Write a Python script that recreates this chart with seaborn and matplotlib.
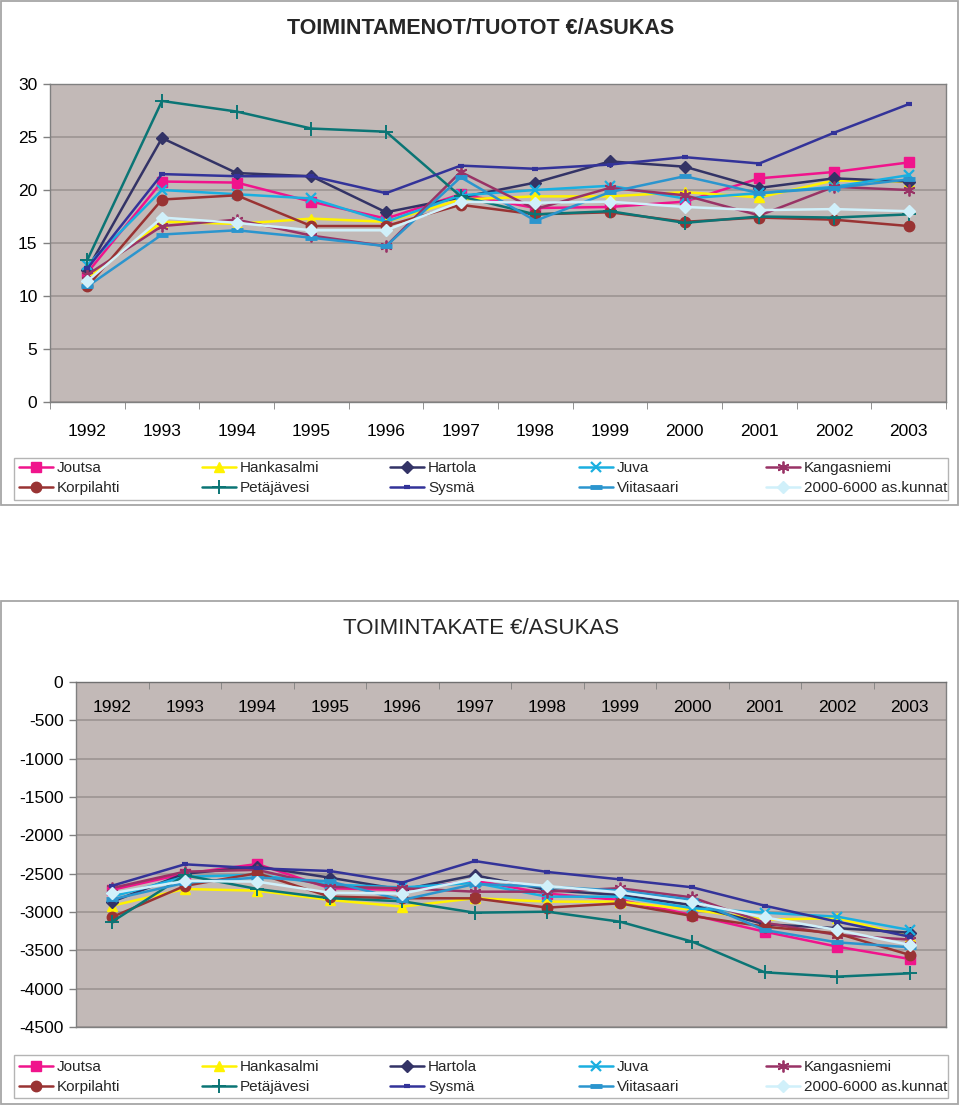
import numpy as np
import pandas as pd
import matplotlib
matplotlib.use('Agg')
import matplotlib.pyplot as plt
from matplotlib.patches import Rectangle
import seaborn as sns

# Vuodet ja kunnat
years = ['1992', '1993', '1994', '1995', '1996', '1997', '1998', '1999', '2000', '2001', '2002', '2003']
names = ['Joutsa', 'Hankasalmi', 'Hartola', 'Juva', 'Kangasniemi',
         'Korpilahti', 'Petäjävesi', 'Sysmä', 'Viitasaari', '2000-6000 as.kunnat']

# Toimintamenot/tuotot €/asukas
joutsa_m = [12.2, 20.8, 20.7, 18.9, 17.3, 19.6, 18.3, 18.4, 18.9, 21.1, 21.7, 22.6]
hankasalmi_m = [11.7, 17.0, 16.8, 17.3, 17.0, 19.1, 19.4, 19.4, 19.8, 19.3, 20.9, 20.8]
hartola_m = [12.5, 24.9, 21.6, 21.3, 17.9, 19.3, 20.7, 22.7, 22.2, 20.2, 21.1, 20.8]
juva_m = [12.9, 20.0, 19.6, 19.2, 17.0, 19.5, 20.0, 20.4, 19.2, 19.7, 20.3, 21.4]
kangasniemi_m = [12.0, 16.6, 17.2, 15.7, 14.7, 21.7, 18.2, 20.2, 19.5, 17.6, 20.3, 20.0]
korpilahti_m = [10.9, 19.1, 19.5, 16.6, 16.6, 18.6, 17.7, 17.9, 17.0, 17.4, 17.2, 16.6]
petajavesi_m = [13.4, 28.4, 27.4, 25.8, 25.5, 19.4, 17.7, 18.0, 16.9, 17.5, 17.4, 17.7]
sysma_m = [12.6, 21.5, 21.3, 21.3, 19.7, 22.3, 22.0, 22.4, 23.1, 22.5, 25.4, 28.1]
viitasaari_m = [10.9, 15.8, 16.2, 15.5, 14.7, 21.2, 17.1, 19.8, 21.3, 19.7, 20.2, 21.0]
kunnat_m = [11.4, 17.4, 16.9, 16.2, 16.2, 18.9, 18.8, 18.9, 18.4, 18.1, 18.2, 18.0]

# Toimintakate €/asukas
joutsa_k = [-2710, -2500, -2374, -2690, -2713, -2590, -2760, -2843, -3039, -3257, -3452, -3613]
hankasalmi_k = [-2918, -2700, -2722, -2843, -2930, -2820, -2865, -2865, -2970, -3100, -3080, -3320]
hartola_k = [-2865, -2500, -2409, -2552, -2710, -2520, -2713, -2780, -2910, -3160, -3210, -3270]
juva_k = [-2800, -2540, -2515, -2640, -2680, -2620, -2800, -2800, -2950, -3009, -3061, -3235]
kangasniemi_k = [-2687, -2474, -2450, -2670, -2690, -2735, -2735, -2690, -2810, -3140, -3300, -3360]
korpilahti_k = [-3065, -2660, -2493, -2800, -2820, -2822, -2943, -2887, -3052, -3191, -3280, -3560]
petajavesi_k = [-3126, -2520, -2700, -2820, -2860, -3009, -2996, -3126, -3387, -3787, -3843, -3800]
sysma_k = [-2657, -2378, -2430, -2465, -2617, -2335, -2478, -2574, -2678, -2918, -3126, -3322]
viitasaari_k = [-2835, -2620, -2550, -2600, -2843, -2635, -2670, -2720, -2840, -3235, -3396, -3460]
kunnat_k = [-2754, -2596, -2604, -2748, -2760, -2570, -2661, -2744, -2874, -3070, -3235, -3430]

menot = [joutsa_m, hankasalmi_m, hartola_m, juva_m, kangasniemi_m,
         korpilahti_m, petajavesi_m, sysma_m, viitasaari_m, kunnat_m]
katteet = [joutsa_k, hankasalmi_k, hartola_k, juva_k, kangasniemi_k,
           korpilahti_k, petajavesi_k, sysma_k, viitasaari_k, kunnat_k]

# Tyylit (väri, merkki, koko, reunan paksuus)
styles = [
    ('#F0148C', 's', 6.5, 1.0),
    ('#FFF200', '^', 7.5, 1.0),
    ('#333366', 'D', 6.0, 1.0),
    ('#1AAFE0', 'x', 7.5, 1.6),
    ('#993366', (6, 2, 0), 8.5, 1.3),
    ('#993333', 'o', 7.5, 1.0),
    ('#0B7575', '+', 9.5, 1.4),
    ('#333399', '_', 5.0, 3.0),
    ('#2B95CE', '_', 8.0, 3.5),
    ('#D0F0FA', 'D', 6.5, 1.0),
]

sns.set_style('white')
plt.rcParams['font.family'] = ['Liberation Sans', 'DejaVu Sans']
plt.rcParams['axes.unicode_minus'] = False

W, H = 960, 1106
fig = plt.figure(figsize=(W / 100, H / 100), dpi=100)

def px_axes(l, t, r, b):
    return fig.add_axes([l / W, 1 - b / H, (r - l) / W, (b - t) / H])

bg = '#C2B9B7'
gridc = '#9C9492'
x = np.arange(len(years))

def draw_series(ax, data):
    for name, vals, (c, m, ms, mew) in zip(names, data, styles):
        sns.lineplot(x=x, y=vals, ax=ax, color=c, marker=m, markersize=ms,
                     markeredgecolor=c, markerfacecolor=c, markeredgewidth=mew,
                     lw=1.8, label=name)
    h, l = ax.get_legend_handles_labels()
    if ax.get_legend() is not None:
        ax.get_legend().remove()
    return h, l

def style_axes(ax):
    ax.set_facecolor(bg)
    ax.set_xlim(-0.5, 11.5)
    ax.grid(axis='y', color=gridc, lw=1.2)
    ax.grid(axis='x', visible=False)
    ax.set_axisbelow(True)
    for s in ax.spines.values():
        s.set_color('#808080')
        s.set_linewidth(1.0)
    ax.set_xlabel('')
    ax.set_ylabel('')
    ax.set_xticks(x)
    ax.set_xticks(np.arange(-0.5, 12, 1), minor=True)
    ax.tick_params(axis='both', labelsize=12.5, colors='black')
    ax.tick_params(axis='y', length=5, width=1, color='#808080', pad=4, left=True)

def draw_legend(handles, labels, y_mid):
    xs = [19, 202, 390, 579, 766]
    for j in range(5):
        fig.legend([handles[j], handles[j + 5]], [labels[j], labels[j + 5]],
                   loc='center left', bbox_to_anchor=(xs[j] / W, 1 - y_mid / H),
                   frameon=False, fontsize=11, handlelength=2.2,
                   handletextpad=0.3, labelspacing=0.38, borderpad=0,
                   borderaxespad=0, numpoints=1)

# Ylempi kaavio
ax1 = px_axes(50, 84, 946, 402)
h, l = draw_series(ax1, menot)
style_axes(ax1)
ax1.set_ylim(0, 30)
ax1.set_yticks(np.arange(0, 31, 5))
ax1.set_xticklabels(years)
ax1.tick_params(axis='x', which='major', length=0, pad=16)
ax1.tick_params(axis='x', which='minor', length=5, color='#808080', bottom=True)
fig.text(481 / W, 1 - 29 / H, 'TOIMINTAMENOT/TUOTOT €/ASUKAS', ha='center', va='center',
         fontsize=15.5, fontweight='bold')
draw_legend(h, l, 478)

# Alempi kaavio
ax2 = px_axes(76, 682, 946, 1027)
h2, l2 = draw_series(ax2, katteet)
style_axes(ax2)
ax2.set_ylim(-4500, 0)
ax2.set_yticks(np.arange(-4500, 1, 500))
ax2.set_xticklabels(years)
ax2.tick_params(axis='x', which='major', length=0, top=True, bottom=False,
                labeltop=True, labelbottom=False, pad=-24)
ax2.tick_params(axis='x', which='minor', length=5, color='#808080', direction='in',
                top=True, bottom=False)
ax2.spines['top'].set_color('#707070')
fig.text(481 / W, 1 - 628 / H, 'TOIMINTAKATE €/ASUKAS', ha='center', va='center',
         fontsize=16)
draw_legend(h2, l2, 1077)

# Kehykset
for (t, b) in [(1, 505), (601, 1104)]:
    fig.add_artist(Rectangle((1 / W, 1 - b / H), 957 / W, (b - t) / H,
                             transform=fig.transFigure, fill=False, ec='#A6A6A6', lw=1.3))
for (t, b) in [(458, 500), (1055, 1098)]:
    fig.add_artist(Rectangle((14 / W, 1 - b / H), 934 / W, (b - t) / H,
                             transform=fig.transFigure, fill=False, ec='#B4B4B4', lw=1.0))

fig.savefig('out.png', dpi=100, facecolor='white')
